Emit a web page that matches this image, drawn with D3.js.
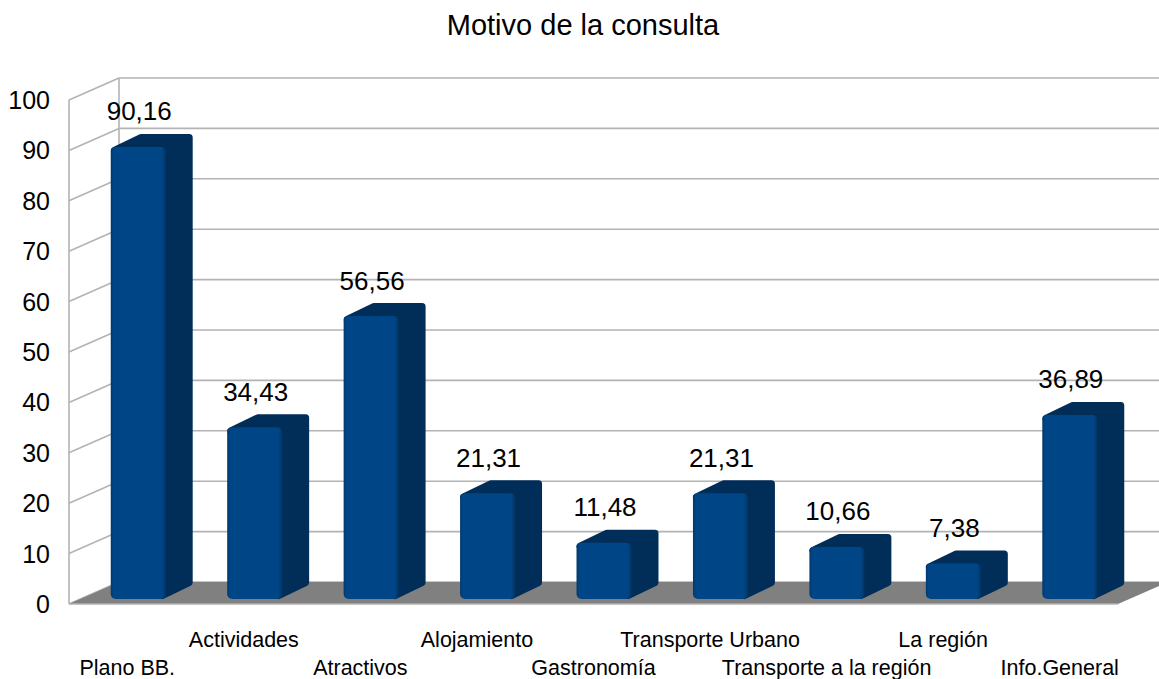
<html>
<head>
<meta charset="utf-8">
<script src="https://d3js.org/d3.v7.min.js"></script>
<style>
    html, body { margin: 0; padding: 0; background: #fff; overflow: hidden; }
    text { font-family: 'Liberation Sans', Arial, sans-serif; fill: #000; }
</style>
</head>
<body>
<svg id="chart" width="1159" height="679"></svg>
<script>
const chartTitle = "Motivo de la consulta";
const categories = ["Plano BB.", "Actividades", "Atractivos", "Alojamiento", "Gastronomía", "Transporte Urbano", "Transporte a la región", "La región", "Info.General"];
const values = [90.16, 34.43, 56.56, 21.31, 11.48, 21.31, 10.66, 7.38, 36.89];
const valueLabels = ["90,16", "34,43", "56,56", "21,31", "11,48", "21,31", "10,66", "7,38", "36,89"];
const yTicks = [0, 10, 20, 30, 40, 50, 60, 70, 80, 90, 100];

const svg = d3.select("#chart");

// 3d offsets of the box and of the bars
const depth = {x: 50, y: -22};
const barDepth = {x: 27, y: -13};

const frontLeft = 69, frontRight = 1118;
const barBottom = 599;

const xScale = d3.scaleBand().domain(categories).range([frontLeft, frontRight]);
const barX = d3.scaleBand().domain(categories).range([80, 1128]).paddingInner(0.528).paddingOuter(0.264);
const yScale = d3.scaleLinear().domain([0, 100]).range([604, 100]);
const barY = d3.scaleLinear().domain([0, 100]).range([600.5, 97.5]);

// side shading of the bar front
const defs = svg.append("defs");
const grad = defs.append("linearGradient").attr("id", "front");
[[0, "#00386c"], [0.05, "#004586"], [0.93, "#004586"], [1, "#003666"]].forEach(s => {
    grad.append("stop").attr("offset", s[0]).attr("stop-color", s[1]);
});

const grid = svg.append("g").attr("stroke", "#b3b3b3").attr("stroke-width", 1.6).attr("fill", "none");

// back wall and side wall lines
grid.selectAll(".back").data(yTicks).enter().append("line")
    .attr("x1", frontLeft + depth.x).attr("x2", 1159)
    .attr("y1", d => yScale(d) + depth.y).attr("y2", d => yScale(d) + depth.y);
grid.selectAll(".side").data(yTicks).enter().append("line")
    .attr("x1", frontLeft).attr("x2", frontLeft + depth.x)
    .attr("y1", d => yScale(d)).attr("y2", d => yScale(d) + depth.y);
grid.append("line").attr("x1", frontLeft).attr("x2", frontLeft)
    .attr("y1", yScale(0)).attr("y2", yScale(100));
grid.append("line").attr("x1", frontLeft + depth.x).attr("x2", frontLeft + depth.x)
    .attr("y1", yScale(0) + depth.y).attr("y2", yScale(100) + depth.y);

// floor
const floorTop = yScale(0) + depth.y;
svg.append("path")
    .attr("fill", "#808080")
    .attr("d", d3.line()([
        [frontLeft, yScale(0)],
        [frontLeft + depth.x, floorTop],
        [1159, floorTop],
        [1159, yScale(0) - 18],
        [frontRight, yScale(0)]
    ]) + "Z");
svg.append("line").attr("stroke", "#b3b3b3").attr("stroke-width", 1.6)
    .attr("x1", frontLeft).attr("x2", frontRight)
    .attr("y1", yScale(0)).attr("y2", yScale(0));

// bars
const bars = svg.selectAll(".bar")
    .data(categories.map((c, i) => ({category: c, value: values[i], label: valueLabels[i]})))
    .enter().append("g").attr("class", "bar");

bars.append("path")
    .attr("fill", "#012d59")
    .attr("stroke", "#012d59")
    .attr("stroke-width", 7)
    .attr("stroke-linejoin", "round")
    .attr("d", d => {
        const x0 = barX(d.category) + 3.5, x1 = x0 + barX.bandwidth() - 7;
        const top = barY(d.value) + 3.5, bottom = barBottom - 3.5;
        return d3.line()([
            [x0, top],
            [x0 + barDepth.x, top + barDepth.y],
            [x1 + barDepth.x, top + barDepth.y],
            [x1 + barDepth.x, bottom + barDepth.y],
            [x1, bottom]
        ]) + "Z";
    });

bars.append("rect")
    .attr("x", d => barX(d.category))
    .attr("y", d => barY(d.value))
    .attr("width", barX.bandwidth())
    .attr("height", d => barBottom - barY(d.value))
    .attr("rx", 5)
    .attr("fill", "url(#front)");

bars.append("text")
    .attr("x", d => barX(d.category) + barX.bandwidth() / 2 + 1)
    .attr("y", d => barY(d.value) + barDepth.y - 13.5)
    .attr("text-anchor", "middle")
    .attr("font-size", 26)
    .text(d => d.label);

// y labels
svg.selectAll(".ytick").data(yTicks).enter().append("text")
    .attr("class", "ytick")
    .attr("x", 50)
    .attr("y", d => yScale(d) + 9)
    .attr("text-anchor", "end")
    .attr("font-size", 25)
    .text(d => d);

// category labels, staggered on two rows
svg.selectAll(".xlabel").data(categories).enter().append("text")
    .attr("class", "xlabel")
    .attr("x", d => xScale(d) + xScale.bandwidth() / 2)
    .attr("y", (d, i) => i % 2 ? 647 : 675)
    .attr("text-anchor", "middle")
    .attr("font-size", 21.5)
    .text(d => d);

svg.append("text")
    .attr("x", 583)
    .attr("y", 35)
    .attr("text-anchor", "middle")
    .attr("font-size", 29)
    .text(chartTitle);
</script>
</body>
</html>
